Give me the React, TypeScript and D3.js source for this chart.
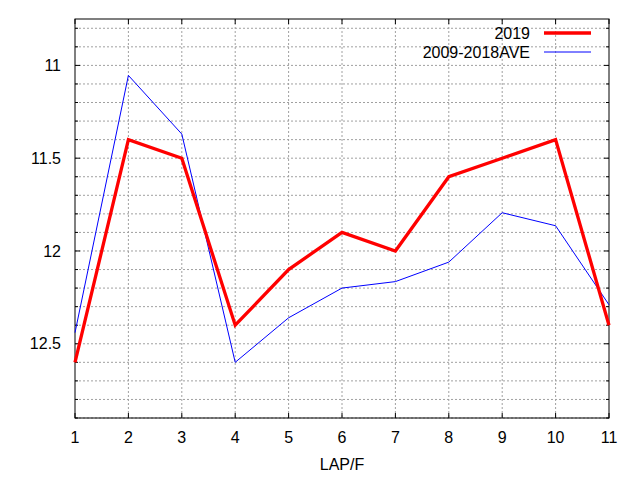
import React, { useEffect, useRef } from "react";
import * as d3 from "d3";

const laps = [1, 2, 3, 4, 5, 6, 7, 8, 9, 10, 11];
const series2019 = [12.6, 11.4, 11.5, 12.4, 12.1, 11.9, 12.0, 11.6, 11.5, 11.4, 12.4];
const seriesAve = [12.44, 11.054, 11.37, 12.6, 12.36, 12.2, 12.165, 12.06, 11.794, 11.864, 12.29];
const yMajorTicks = [11, 11.5, 12, 12.5];
const legendNames = ["2019", "2009-2018AVE"];

const width = 640;
const height = 480;
const margin = { top: 19, right: 31, bottom: 62, left: 75 };

const App: React.FC = () => {
  const svgRef = useRef<SVGSVGElement>(null);

  useEffect(() => {
    if (!svgRef.current) return;
    const svg = d3.select(svgRef.current);
    svg.selectAll("*").remove();

    const x = d3.scaleLinear().domain([1, 11]).range([margin.left, width - margin.right]);
    const y = d3.scaleLinear().domain([10.75, 12.9]).range([margin.top, height - margin.bottom]);
    const x0 = margin.left, x1 = width - margin.right;
    const y0 = margin.top, y1 = height - margin.bottom;

    const minorTicks = d3.range(10.8, 12.95, 0.1).map(v => Math.round(v * 10) / 10);

    // grid
    const grid = svg.append("g").attr("stroke", "#a0a0a0").attr("stroke-dasharray", "2,2").attr("stroke-width", 1);
    minorTicks.forEach(v => {
      grid.append("line").attr("x1", x0).attr("x2", x1).attr("y1", y(v)).attr("y2", y(v));
    });
    laps.slice(1, -1).forEach(v => {
      grid.append("line").attr("x1", x(v)).attr("x2", x(v)).attr("y1", y0).attr("y2", y1);
    });

    // ticks
    const ticks = svg.append("g").attr("stroke", "#000").attr("stroke-width", 1);
    minorTicks.forEach(v => {
      const len = yMajorTicks.includes(v) ? 5 : 3;
      ticks.append("line").attr("x1", x0).attr("x2", x0 + len).attr("y1", y(v)).attr("y2", y(v));
      ticks.append("line").attr("x1", x1).attr("x2", x1 - len).attr("y1", y(v)).attr("y2", y(v));
    });
    laps.forEach(v => {
      ticks.append("line").attr("x1", x(v)).attr("x2", x(v)).attr("y1", y1).attr("y2", y1 - 5);
      ticks.append("line").attr("x1", x(v)).attr("x2", x(v)).attr("y1", y0).attr("y2", y0 + 5);
    });

    // frame
    svg.append("rect")
      .attr("x", x0).attr("y", y0)
      .attr("width", x1 - x0).attr("height", y1 - y0)
      .attr("fill", "none").attr("stroke", "#000").attr("stroke-width", 1);

    const font = "'Liberation Sans', Arial, sans-serif";
    const fs = 16;

    // tick labels
    svg.append("g").selectAll("text")
      .data(yMajorTicks)
      .join("text")
      .attr("x", x0 - 14)
      .attr("y", d => y(d))
      .attr("dy", "0.35em")
      .attr("text-anchor", "end")
      .attr("font-family", font)
      .attr("font-size", fs)
      .text(d => String(d));

    svg.append("g").selectAll("text")
      .data(laps)
      .join("text")
      .attr("x", d => x(d))
      .attr("y", y1 + 19)
      .attr("dy", "0.35em")
      .attr("text-anchor", "middle")
      .attr("font-family", font)
      .attr("font-size", fs)
      .text(d => String(d));

    svg.append("text")
      .attr("x", (x0 + x1) / 2)
      .attr("y", 464)
      .attr("dy", "0.35em")
      .attr("text-anchor", "middle")
      .attr("font-family", font)
      .attr("font-size", fs)
      .text("LAP/F");

    // lines
    const line = d3.line<number>().x((_, i) => x(laps[i])).y(d => y(d));
    svg.append("path")
      .datum(seriesAve)
      .attr("fill", "none").attr("stroke", "#0000ff").attr("stroke-width", 1)
      .attr("d", line);
    svg.append("path")
      .datum(series2019)
      .attr("fill", "none").attr("stroke", "#ff0000").attr("stroke-width", 3.3)
      .attr("d", line);

    // legend
    const legend = [
      { name: legendNames[0], color: "#ff0000", w: 3.3, yy: 33 },
      { name: legendNames[1], color: "#0000ff", w: 1, yy: 52 },
    ];
    legend.forEach(l => {
      svg.append("text")
        .attr("x", 530)
        .attr("y", l.yy)
        .attr("dy", "0.35em")
        .attr("text-anchor", "end")
        .attr("font-family", font)
        .attr("font-size", fs)
        .text(l.name);
      svg.append("line")
        .attr("x1", 544).attr("x2", 591)
        .attr("y1", l.yy).attr("y2", l.yy)
        .attr("stroke", l.color).attr("stroke-width", l.w);
    });
  }, []);

  return (
    <svg
      ref={svgRef}
      width={width}
      height={height}
      style={{ position: "absolute", left: 0, top: 0, background: "#fff" }}
    />
  );
};

export default App;
